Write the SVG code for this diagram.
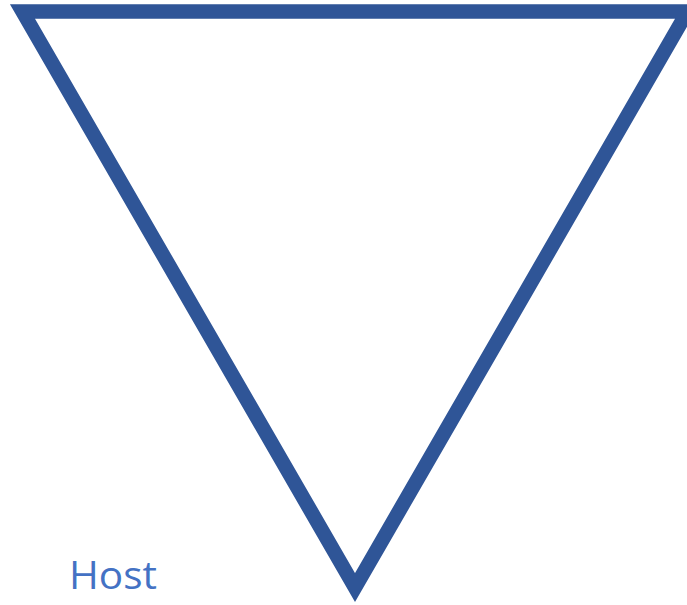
<svg xmlns="http://www.w3.org/2000/svg" width="687" height="605" viewBox="0 0 687 605">
<style>
.tri{fill:#FFFFFF;stroke:#2F5597;stroke-width:14.5;stroke-linejoin:miter;stroke-miterlimit:10}
.lbl{font-family:"Open Sans","Liberation Sans",sans-serif;font-size:38px;fill:#4472C4}
</style>
<rect width="687" height="605" fill="#FFFFFF"/>
<g id="host">
<polygon class="tri" points="22.5,11.5 687.5,11.5 355,587.5"/>
<text class="lbl" x="69" y="589" textLength="88" lengthAdjust="spacingAndGlyphs">Host</text>
</g>
<g id="connectors"></g>
</svg>
